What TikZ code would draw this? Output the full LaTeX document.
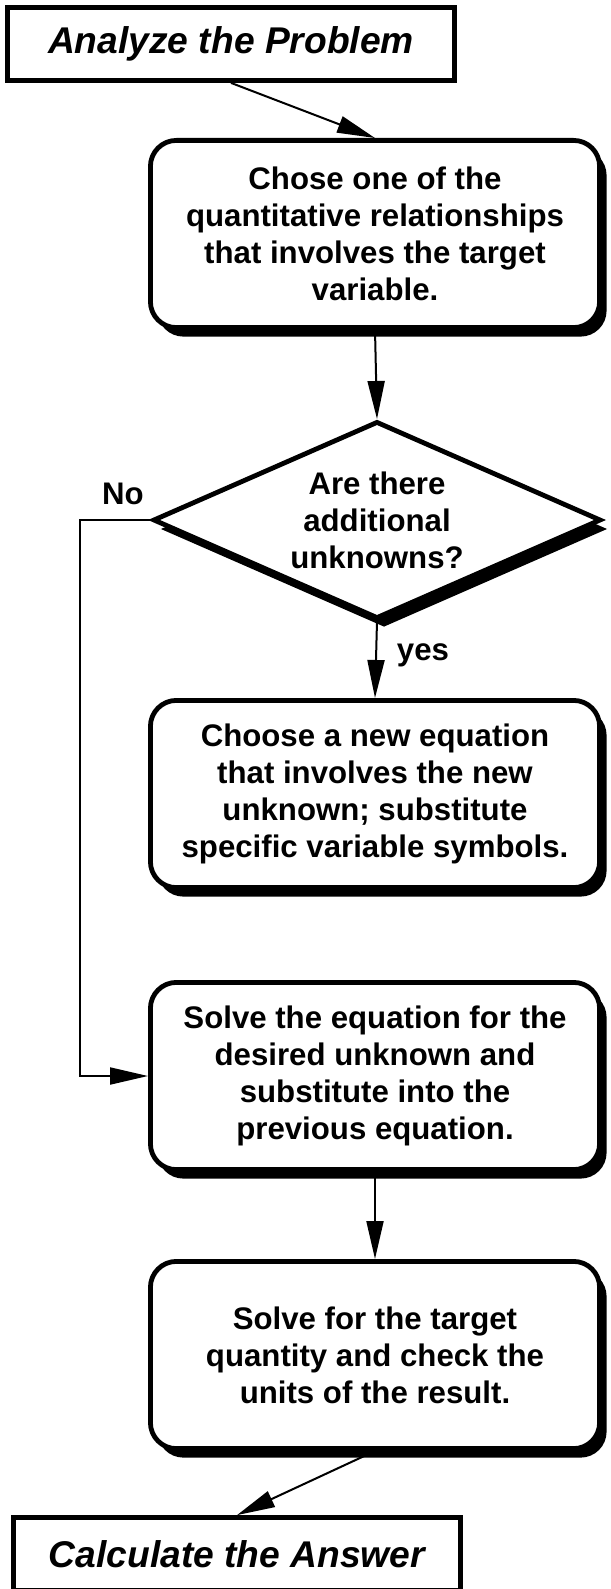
\documentclass[tikz,border=0pt]{standalone}
\usepackage{fontspec}
\setmainfont{Liberation Sans}
\usetikzlibrary{arrows.meta,shapes.geometric,shadows}

\begin{document}
\begin{tikzpicture}[x=0.5pt,y=-0.5pt,
    boxfont/.style={font=\fontsize{15.6}{18.5}\selectfont\bfseries},
    shade/.style={drop shadow={shadow xshift=3.5pt,shadow yshift=-4.5pt,fill=black,opacity=1}},
    stepbox/.style={draw, line width=2.4pt, rounded corners=13pt, fill=white, shade,
        minimum width=224.6pt, minimum height=93.6pt, inner sep=0pt, align=center, boxfont},
    decision/.style={diamond, aspect=2.3, draw, line width=2.4pt, fill=white, shade,
        minimum width=224pt, minimum height=98.6pt, inner sep=0pt, align=center, boxfont},
    termbox/.style={draw, line width=2.4pt, fill=white, minimum width=223.5pt,
        minimum height=36.5pt, inner sep=0pt, font=\fontsize{18.6}{22}\selectfont\bfseries\itshape},
    lbl/.style={inner sep=0pt, boxfont},
    arr/.style={-{Triangle[length=19pt,width=8.5pt]}, line width=1pt}]
    \useasboundingbox (0,0) rectangle (610,1589);

    % Start and end
    \node[termbox] (top) at (231,44) {Analyze the Problem};
    \node[termbox] (bot) at (237,1554) {Calculate the Answer};

    % Steps
    \node[stepbox] (box1) at (375,234)
        {Chose one of the\\quantitative relationships\\that involves the target\\variable.};
    \node[decision] (dia) at (377,520) {Are there\\additional\\unknowns?};
    \node[stepbox] (box2) at (375,794)
        {Choose a new equation\\that involves the new\\unknown; substitute\\specific variable symbols.};
    \node[stepbox] (box3) at (375,1076)
        {Solve the equation for the\\desired unknown and\\substitute into the\\previous equation.};
    \node[stepbox] (box4) at (375,1355)
        {Solve for the target\\quantity and check the\\units of the result.};

    % Connectors
    \coordinate (noturn) at (80,520);
    \draw[arr] (top.south) -- (box1.north);
    \draw[arr] (box1.south) -- (dia.north);
    \draw[arr] (dia.south) -- (box2.north);
    \draw[arr] (dia.west) -- (noturn) |- (box3.west);
    \draw[arr] (box3.south) -- (box4.north);
    \draw[arr] (box4.south) -- (bot.north);
    \node[lbl] (no) at (123,494) {No};
    \node[lbl] (yes) at (423,655) {yes};
\end{tikzpicture}
\end{document}
